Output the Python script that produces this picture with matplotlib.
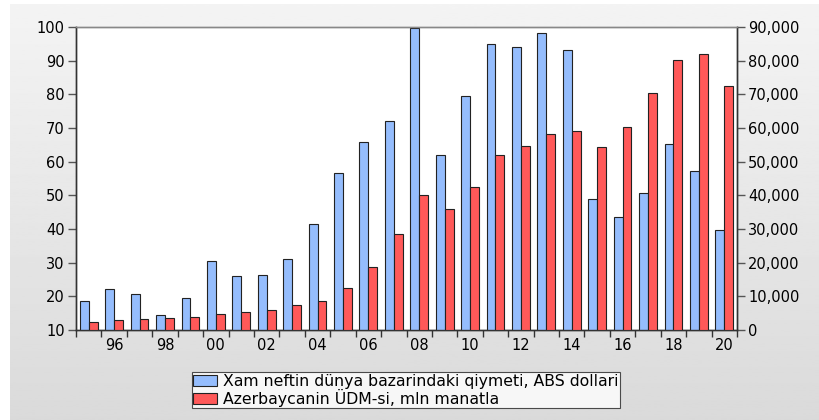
import numpy as np, matplotlib.pyplot as plt
from matplotlib.ticker import FuncFormatter, FixedLocator

plt.rcParams['font.family'] = ['DejaVu Sans']

years = list(range(1995, 2021))
oil = [18.6, 22.2, 20.7, 14.6, 19.4, 30.5, 26.1, 26.3, 31.2, 41.6, 56.5, 65.9, 72.2,
       99.7, 62.1, 79.4, 94.9, 94.0, 98.1, 93.3, 48.8, 43.5, 50.8, 65.2, 57.1, 39.8]
gdp = [2400, 3000, 3400, 3650, 3950, 4850, 5450, 6050, 7350, 8600, 12550, 18800, 28400,
       40100, 35850, 42450, 52100, 54750, 58100, 59000, 54400, 60400, 70400, 80100, 81900, 72600]
lab_oil = "Xam neftin dünya bazarindaki qiymeti, ABS dollari"
lab_gdp = "Azerbaycanin ÜDM-si, mln manatla"

BLUE = "#95BDFD"; RED = "#FF5959"
W, H = 819, 420
fig = plt.figure(figsize=(W/100, H/100), dpi=100, facecolor="white")

# grey gradient backdrop
bg = fig.add_axes([10/W, 0, 1-10/W, 1-4/H]); bg.set_axis_off()
grad = np.linspace(0.955, 0.855, 256).reshape(-1, 1)
bg.imshow(grad, aspect="auto", cmap="gray", vmin=0, vmax=1, extent=[0, 1, 0, 1])

ax = fig.add_axes([76/W, 1-330/H, (737-76)/W, (330-27)/H])
ax.set_facecolor("white")
x = np.arange(len(years)); bw = 0.35
b1 = ax.bar(x-bw/2, oil, bw, bottom=0, color=BLUE, edgecolor="#222", lw=0.8, zorder=3, label=lab_oil)
ax.set_ylim(10, 100); ax.set_yticks(range(10, 101, 10))
ax.set_xlim(-0.5, len(years)-0.5)

ax2 = ax.twinx()
b2 = ax2.bar(x+bw/2, gdp, bw, color=RED, edgecolor="#222", lw=0.8, zorder=3, label=lab_gdp)
ax2.set_ylim(0, 90000); ax2.set_yticks(range(0, 90001, 10000))
ax2.yaxis.set_major_formatter(FuncFormatter(lambda v, p: f"{int(v):,}"))

ax.set_xticks(x[1::2]); ax.set_xticklabels([f"{y%100:02d}" for y in years[1::2]])
ax.xaxis.set_minor_locator(FixedLocator(np.arange(-0.5, len(years), 1.0)))
ax.tick_params(axis="x", which="major", length=0, pad=6, labelsize=10.5)
ax.tick_params(axis="x", which="minor", length=5, width=1, color="#333")
ax.tick_params(axis="y", length=6, width=1, color="#555", labelsize=10.5, pad=2)
ax2.tick_params(axis="y", length=6, width=1, color="#555", labelsize=10.5, pad=2)

for a in (ax, ax2):
    for s in a.spines.values(): s.set_linewidth(1.0); s.set_color("#333")
    a.spines["top"].set_color("#888")

leg = fig.legend(handles=[b1, b2], loc="upper center", bbox_to_anchor=(406/W, 1-372/H),
                 fontsize=11.3, frameon=True, fancybox=False, edgecolor="#222",
                 handlelength=1.5, handleheight=0.7, handletextpad=0.4,
                 borderpad=0.1, labelspacing=0.0, borderaxespad=0)
leg.get_frame().set_linewidth(0.8)

fig.savefig("out.png", dpi=100, facecolor="white")
